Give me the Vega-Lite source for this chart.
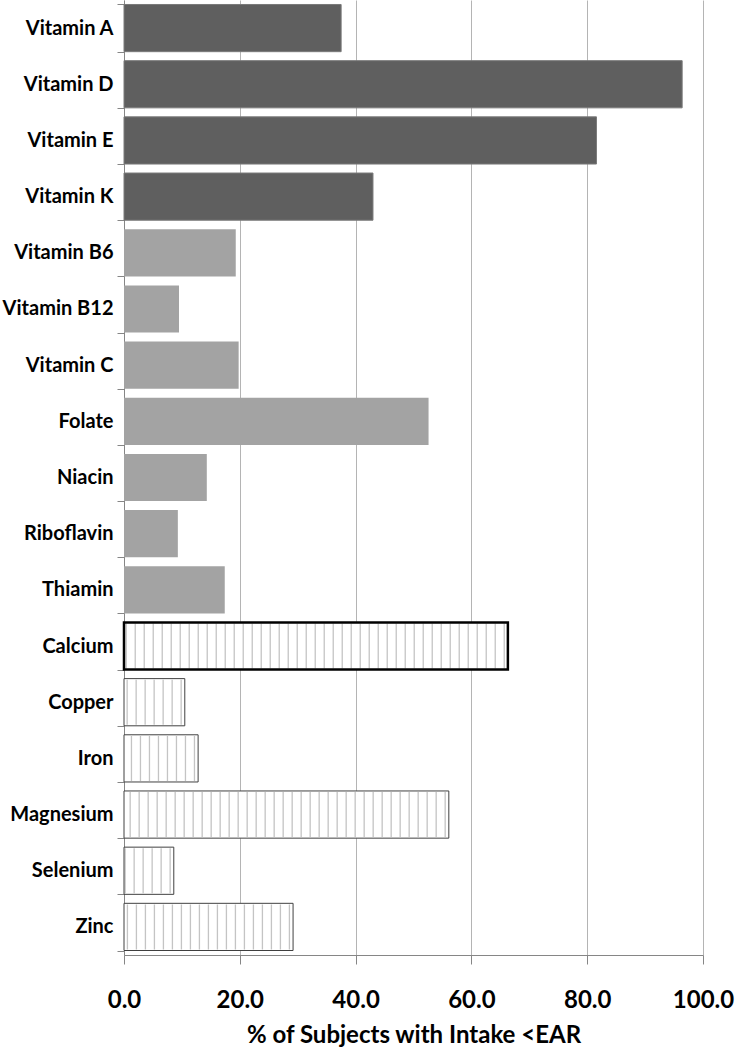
{
  "$schema": "https://vega.github.io/schema/vega-lite/v6.json",
  "width": 579,
  "height": 955,
  "autosize": "none",
  "padding": {"left": 124, "top": 0, "right": 32, "bottom": 95},
  "background": "white",
  "config": {"view": {"stroke": null}, "font": "Lato"},
  "data": {
    "values": [
      {"nutrient": "Vitamin A", "group": "fat", "pct": 37.5},
      {"nutrient": "Vitamin D", "group": "fat", "pct": 96.4},
      {"nutrient": "Vitamin E", "group": "fat", "pct": 81.6},
      {"nutrient": "Vitamin K", "group": "fat", "pct": 43.0},
      {"nutrient": "Vitamin B6", "group": "water", "pct": 19.3},
      {"nutrient": "Vitamin B12", "group": "water", "pct": 9.5},
      {"nutrient": "Vitamin C", "group": "water", "pct": 19.8},
      {"nutrient": "Folate", "group": "water", "pct": 52.6},
      {"nutrient": "Niacin", "group": "water", "pct": 14.3},
      {"nutrient": "Riboflavin", "group": "water", "pct": 9.3},
      {"nutrient": "Thiamin", "group": "water", "pct": 17.4},
      {"nutrient": "Calcium", "group": "mineral", "pct": 66.3},
      {"nutrient": "Copper", "group": "mineral", "pct": 10.5},
      {"nutrient": "Iron", "group": "mineral", "pct": 12.8},
      {"nutrient": "Magnesium", "group": "mineral", "pct": 56.1},
      {"nutrient": "Selenium", "group": "mineral", "pct": 8.6},
      {"nutrient": "Zinc", "group": "mineral", "pct": 29.2}
    ]
  },
  "encoding": {
    "y": {
      "field": "nutrient",
      "type": "nominal",
      "sort": null,
      "scale": {"paddingInner": 0.16, "paddingOuter": 0.08},
      "axis": {
        "title": null,
        "labelFont": "Lato",
        "labelFontWeight": "bold",
        "labelFontSize": 20,
        "labelColor": "#000000",
        "labelPadding": 4,
        "labelLimit": 0,
        "tickSize": 7,
        "tickColor": "#868686",
        "domainColor": "#868686",
        "tickBand": "extent",
        "grid": false
      }
    }
  },
  "layer": [
    {
      "mark": {"type": "bar", "strokeWidth": 0},
      "encoding": {
        "x": {
          "field": "pct",
          "type": "quantitative",
          "scale": {"domain": [0, 100], "nice": false},
          "axis": {
            "values": [0, 20, 40, 60, 80, 100],
            "format": ".1f",
            "grid": true,
            "gridColor": "#b4b4b4",
            "tickSize": 9,
            "tickColor": "#868686",
            "domainColor": "#868686",
            "labelFlush": false,
            "labelFont": "Lato",
            "labelFontWeight": "bold",
            "labelFontSize": 24,
            "labelColor": "#000000",
            "labelPadding": 24,
            "title": "% of Subjects with Intake <EAR",
            "titleFont": "Lato",
            "titleFontWeight": "bold",
            "titleFontSize": 24,
            "titleColor": "#000000",
            "titlePadding": 11
          }
        },
        "fill": {
          "field": "group",
          "type": "nominal",
          "scale": {"domain": ["fat", "water", "mineral"], "range": ["#5f5f5f", "#a3a3a3", "#ffffff"]},
          "legend": null
        }
      }
    },
    {
      "transform": [{"filter": "datum.group === 'mineral'"}],
      "mark": {"type": "rule", "strokeWidth": 45, "strokeDash": [1.3, 7.7], "strokeDashOffset": -3, "color": "#c4c4c4", "strokeCap": "butt"},
      "encoding": {
        "x": {"field": "pct", "type": "quantitative"},
        "x2": {"datum": 0}
      }
    },
    {
      "mark": {"type": "bar", "fillOpacity": 0},
      "encoding": {
        "x": {"field": "pct", "type": "quantitative"},
        "stroke": {
          "condition": {"test": "datum.nutrient === 'Calcium'", "value": "#000000"},
          "field": "group",
          "type": "nominal",
          "scale": {"domain": ["fat", "water", "mineral"], "range": ["#7a7a7a", "transparent", "#404040"]},
          "legend": null
        },
        "strokeWidth": {
          "condition": {"test": "datum.nutrient === 'Calcium'", "value": 2.5},
          "value": 1
        }
      }
    }
  ]
}
